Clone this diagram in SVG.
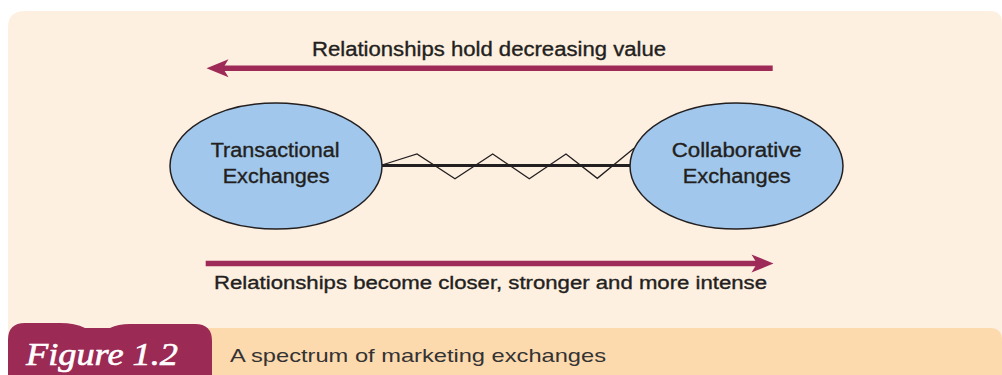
<svg xmlns="http://www.w3.org/2000/svg" width="1002" height="375" viewBox="0 0 1002 375">
<style>
.lbl{font-family:"Liberation Sans",Arial,sans-serif;fill:#231f20;stroke:#231f20;stroke-width:0.35;}
.node{fill:#a1c8ec;stroke:#231f20;stroke-width:1.5;}
.arr{stroke:#9e2a58;stroke-width:5.5;fill:none;}
.head{fill:#9e2a58;}
</style>
<rect x="0" y="0" width="1002" height="375" fill="#ffffff"/>
<path d="M8,28 Q8,11 25,11 L990,11 Q1002,11 1002,23 L1002,375 L8,375 Z" fill="#fef0e0"/>
<path d="M200,328 L990,328 Q1002,328 1002,340 L1002,375 L200,375 Z" fill="#fdd9ae"/>
<path d="M8,375 L8,340 Q8,323 25,323 L60,323 Q75,323 85,328 L110,328 Q118,324 130,324 L195,324 Q212,324 212,341 L212,375 Z" fill="#9b2a55"/>
<text x="26" y="365" font-family="'Liberation Serif',serif" font-style="italic" font-size="31" fill="#ffffff" stroke="#ffffff" stroke-width="0.6" textLength="152" lengthAdjust="spacingAndGlyphs">Figure 1.2</text>
<text x="230" y="362" font-family="'Liberation Sans',Arial,sans-serif" font-size="19" fill="#333333" textLength="376" lengthAdjust="spacingAndGlyphs">A spectrum of marketing exchanges</text>
<g id="connectors">
<line x1="382" y1="165.5" x2="631" y2="165.5" stroke="#231f20" stroke-width="3"/>
<polyline points="382,165 417,154 455,178.7 492.7,154 529.3,178.7 566,154 597.3,178.3 634,148.3" fill="none" stroke="#231f20" stroke-width="1.3"/>
</g>
<g id="arrow-top">
<line class="arr" x1="772.7" y1="68.3" x2="222" y2="68.3"/>
<path class="head" d="M206.5,68.3 L228.5,59.3 L223,68.3 L228.5,77.3 Z"/>
<text class="lbl" x="312" y="56" font-size="19.5" textLength="354" lengthAdjust="spacingAndGlyphs">Relationships hold decreasing value</text>
</g>
<g id="arrow-bottom">
<line class="arr" x1="205.7" y1="263.5" x2="758" y2="263.5"/>
<path class="head" d="M773.5,263.5 L751.5,254.5 L757,263.5 L751.5,272.5 Z"/>
<text class="lbl" x="214" y="289.3" font-size="18" textLength="553" lengthAdjust="spacingAndGlyphs">Relationships become closer, stronger and more intense</text>
</g>
<g id="node-transactional">
<ellipse class="node" cx="276" cy="166" rx="106" ry="63"/>
<text class="lbl" x="210.7" y="157.3" font-size="19.5" textLength="129" lengthAdjust="spacingAndGlyphs">Transactional</text>
<text class="lbl" x="222.7" y="183.3" font-size="19.5" textLength="107" lengthAdjust="spacingAndGlyphs">Exchanges</text>
</g>
<g id="node-collaborative">
<ellipse class="node" cx="736.5" cy="166" rx="106.5" ry="63"/>
<text class="lbl" x="671.7" y="157.3" font-size="19.5" textLength="130" lengthAdjust="spacingAndGlyphs">Collaborative</text>
<text class="lbl" x="682.7" y="183.3" font-size="19.5" textLength="108" lengthAdjust="spacingAndGlyphs">Exchanges</text>
</g>
</svg>
